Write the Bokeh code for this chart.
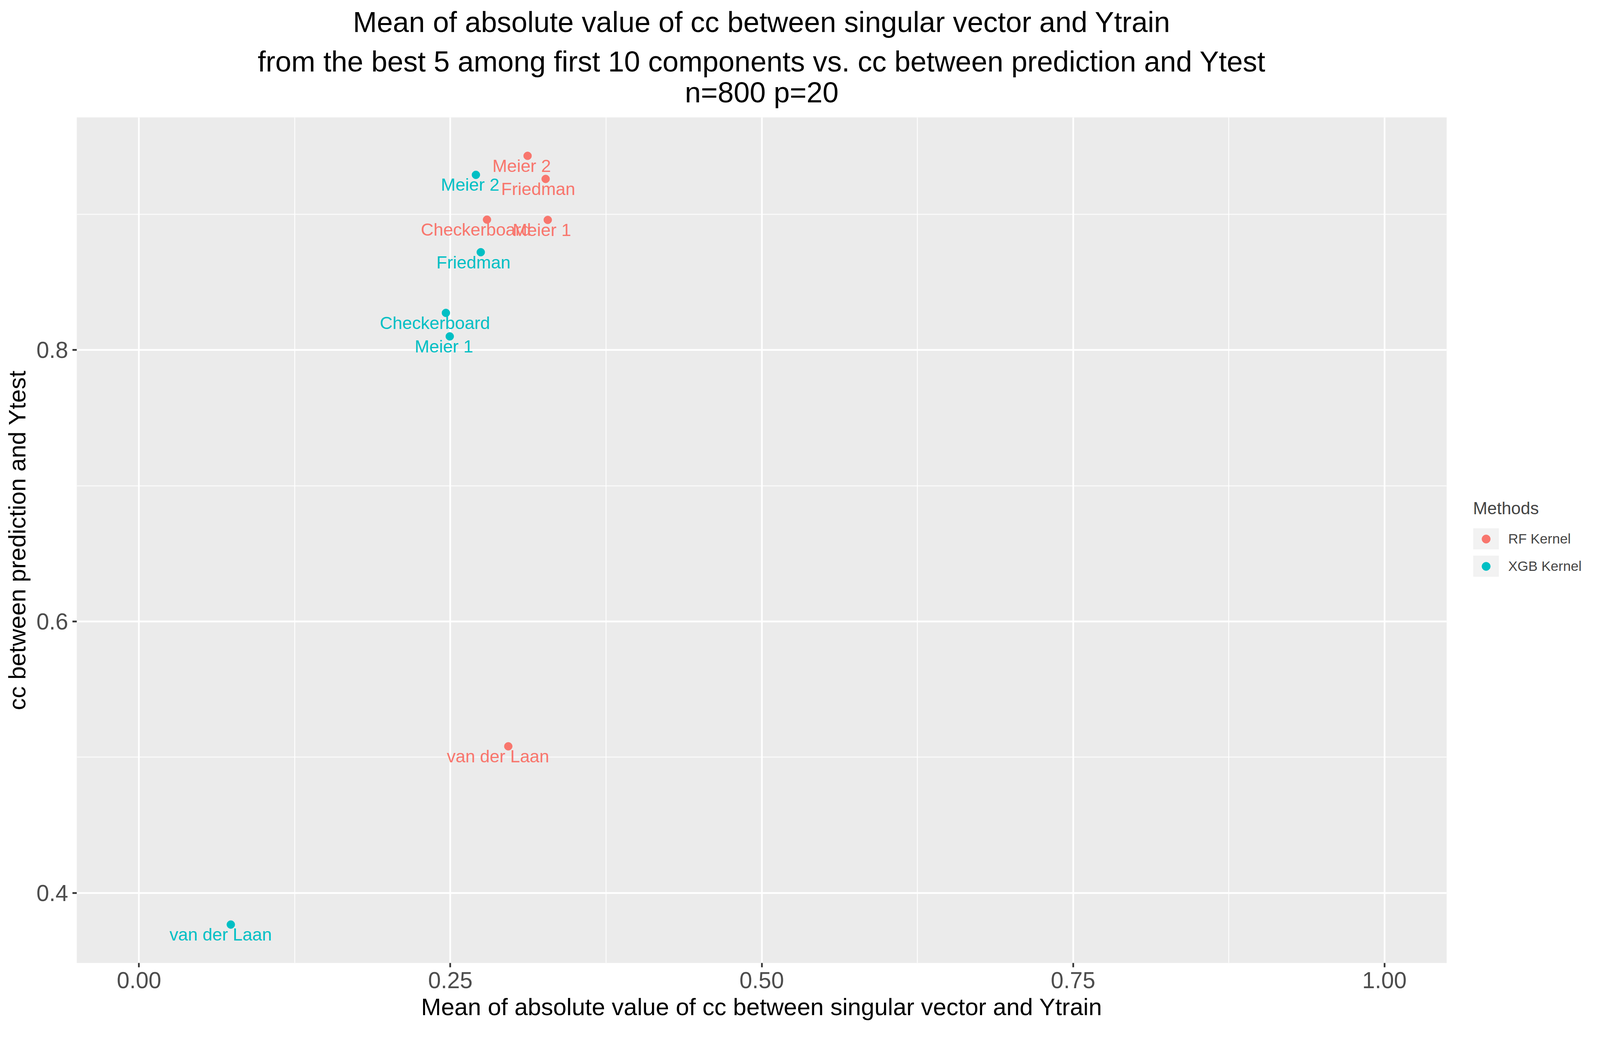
from bokeh.plotting import figure
from bokeh.models import (ColumnDataSource, Range1d, FixedTicker, PrintfTickFormatter,
                          Title, Legend, LegendItem)
from bokeh.core.properties import value
from bokeh.embed import file_html
from bokeh.resources import INLINE

# ---- data -------------------------------------------------------------
datasets = ["Meier 2", "Friedman", "Checkerboard", "Meier 1", "van der Laan"]
rf_x = [0.312, 0.3265, 0.2794, 0.3282, 0.2965]
rf_y = [0.943, 0.926, 0.896, 0.8958, 0.508]
xgb_x = [0.2705, 0.2744, 0.2464, 0.2495, 0.0737]
xgb_y = [0.929, 0.872, 0.8273, 0.810, 0.3767]
methods = ["RF Kernel", "XGB Kernel"]
method_colors = ["#F8766D", "#00BFC4"]

x_ticks = [0.0, 0.25, 0.5, 0.75, 1.0]
x_minor = [0.125, 0.375, 0.625, 0.875]
y_ticks = [0.4, 0.6, 0.8]
y_minor = [0.3, 0.5, 0.7, 0.9]

title_lines = [
    "Mean of absolute value of cc between singular vector and Ytrain",
    "from the best 5 among first 10 components vs. cc between prediction and Ytest",
    "n=800 p=20",
]
x_label = "Mean of absolute value of cc between singular vector and Ytrain"
y_label = "cc between prediction and Ytest"
legend_title = "Methods"

# ---- style ------------------------------------------------------------
FONT = "Liberation Sans"
K = 1.0254  # screenshot magnification of the page


def px(v):
    return v / K


LABEL_PX = px(46)
TITLE_PX = px(75.6)
title_standoffs = [0.0, 32.9, -46.3]   # line 1, line 2, line 3
spacer_standoff = -39.3                 # gap between last title line and frame

_W = {" ": 278, "M": 833, "e": 556, "i": 222, "r": 333, "1": 556, "2": 556, "F": 611,
      "d": 556, "m": 833, "a": 556, "n": 556, "C": 722, "h": 556, "c": 500, "k": 500,
      "b": 556, "o": 556, "v": 500, "L": 556}


def text_width(s, size):
    return sum(_W.get(ch, 556) for ch in s) * size / 1000.0


def offsets(labels):
    # ggplot-like horizontal justification ~0.6
    return [-0.1 * text_width(s, LABEL_PX) for s in labels]


all_y = rf_y + xgb_y
ymin, ymax = min(all_y), max(all_y)
ypad = (ymax - ymin) * 0.05
y0, y1 = ymin - ypad, ymax + ypad

p = figure(frame_width=3507, frame_height=2164,
           min_border_left=196, min_border_right=387,
           min_border_top=300, min_border_bottom=164,
           x_range=Range1d(-0.05, 1.05), y_range=Range1d(y0, y1),
           output_backend="svg", toolbar_location=None)

p.background_fill_color = "#EBEBEB"
p.border_fill_color = "white"
p.outline_line_color = None

# axes
p.xaxis.ticker = FixedTicker(ticks=x_ticks, minor_ticks=x_minor)
p.yaxis.ticker = FixedTicker(ticks=y_ticks, minor_ticks=y_minor)
p.xaxis.formatter = PrintfTickFormatter(format="%.2f")
p.yaxis.formatter = PrintfTickFormatter(format="%.1f")
for ax in (p.xaxis, p.yaxis):
    ax.axis_line_color = None
    ax.minor_tick_line_color = None
    ax.major_tick_line_color = "#333333"
    ax.major_tick_line_width = px(4.4)
    ax.major_tick_in = 0
    ax.major_tick_out = 11
    ax.major_label_text_font = FONT
    ax.major_label_text_font_size = f"{px(60):.1f}px"
    ax.major_label_text_color = "#4D4D4D"
    ax.axis_label_text_font = FONT
    ax.axis_label_text_font_size = f"{px(63):.1f}px"
    ax.axis_label_text_font_style = "normal"
    ax.axis_label_text_color = "black"
p.xaxis.axis_label = x_label
p.yaxis.axis_label = y_label
p.xaxis.major_label_standoff = 12
p.yaxis.major_label_standoff = 11
p.xaxis.axis_label_standoff = 10
p.yaxis.axis_label_standoff = 12

for g in (p.xgrid, p.ygrid):
    g.grid_line_color = "white"
    g.grid_line_width = px(4.4)
    g.minor_grid_line_color = "white"
    g.minor_grid_line_width = px(2.2)

# glyphs
groups = [(rf_x, rf_y), (xgb_x, xgb_y)]
scatter_renderers = []
for (gx, gy), col in zip(groups, method_colors):
    src = ColumnDataSource(dict(x=gx, y=gy, label=datasets, xo=offsets(datasets)))
    r = p.scatter("x", "y", source=src, size=px(21), color=col, line_color=col)
    scatter_renderers.append(r)
    p.text("x", "y", text="label", source=src, x_offset="xo", y_offset=0,
           text_align="center", text_baseline="top", text_color=col,
           text_font=value(FONT), text_font_size=f"{LABEL_PX:.1f}px")

# legend key background: a thick line renderer with no visible data (NaN)
nan = float("nan")
key_bg = p.line(x=[nan], y=[nan], line_color="#F2F2F2", line_width=66, line_cap="butt")

items = [LegendItem(label=m, renderers=[key_bg, r]) for m, r in zip(methods, scatter_renderers)]
legend = Legend(items=items, location=(68, 988),
                title=legend_title, title_text_font=FONT, title_text_font_size=f"{px(45):.1f}px",
                title_text_font_style="normal", title_standoff=26,
                label_text_font=FONT, label_text_font_size=f"{px(36.5):.1f}px",
                glyph_width=66, glyph_height=54, spacing=16, label_standoff=24,
                padding=0, margin=0, border_line_color=None,
                background_fill_alpha=0)
p.add_layout(legend, "right")


def title(text, standoff):
    return Title(text=text, align="center", standoff=standoff,
                 text_font=FONT, text_font_size=f"{TITLE_PX:.1f}px",
                 text_font_style="normal", text_color="black")


# titles stack upward from the frame: spacer, line 3, line 2, line 1
p.add_layout(title(" ", spacer_standoff), "above")
for line, so in reversed(list(zip(title_lines, title_standoffs))):
    p.add_layout(title(line, so), "above")

open("out.html", "w").write(file_html(p, INLINE))
